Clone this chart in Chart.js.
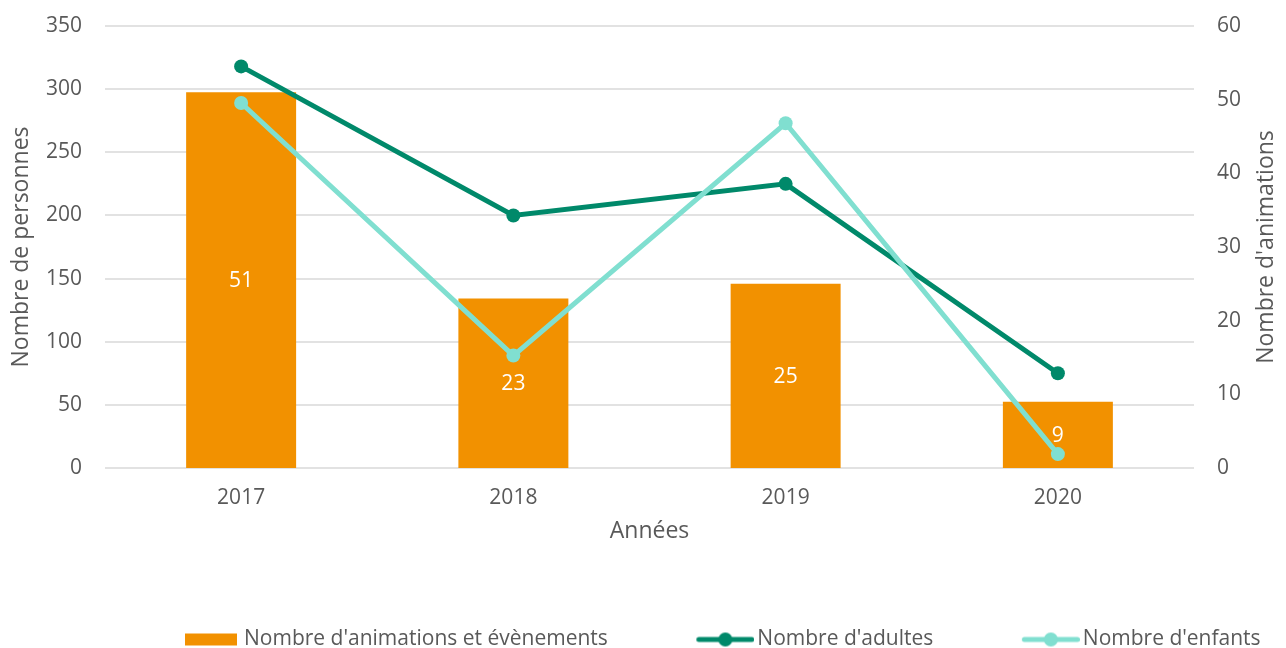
<!DOCTYPE html>
<html>
<head>
<meta charset="utf-8">
<script src="https://cdn.jsdelivr.net/npm/chart.js@4"></script>
<style>
  html, body { margin: 0; padding: 0; background: #ffffff; }
  #wrap { width: 1286px; height: 648px; }
</style>
</head>
<body>
<div id="wrap"><canvas id="c" width="1286" height="648"></canvas></div>
<script>
// ---- Data ----
const years = ['2017', '2018', '2019', '2020'];
const animations = [51, 23, 25, 9];
const adultes = [318, 200, 225, 75];
const enfants = [289, 89, 273, 11];
const leftTicks = { min: 0, max: 350, step: 50 };
const rightTicks = { min: 0, max: 60, step: 10 };
const labelsText = {
  bars: "Nombre d'animations et évènements",
  adults: "Nombre d'adultes",
  kids: "Nombre d'enfants",
  xTitle: 'Années',
  yLeft: 'Nombre de personnes',
  yRight: "Nombre d'animations"
};

// ---- Styles ----
const ORANGE = '#F29100';
const DARK = '#00896A';
const TEAL = '#80DFD0';
const TEXT = '#595959';
const GRID = '#e2e2e2';
const FONT = "'Open Sans', sans-serif";
const LEG_FONT = 21;
const BOXW = 58;
const LEG_PAD = 81;

function legendImg(kind, color, gap) {
  const half = LEG_FONT / 2;
  const W = Math.round(BOXW + 2 * half - 2 * gap);
  const H = 16;
  const cv = document.createElement('canvas');
  cv.width = W; cv.height = H;
  const g = cv.getContext('2d');
  if (kind === 'bar') {
    const cw = 52;
    g.fillStyle = color;
    g.fillRect(W - cw, 2, cw, 12);
  } else {
    const cw = 58;
    g.strokeStyle = color;
    g.lineWidth = 5;
    g.lineCap = 'round';
    g.beginPath();
    g.moveTo(W - cw + 2.5, H / 2);
    g.lineTo(W - 2.5, H / 2);
    g.stroke();
    g.fillStyle = color;
    g.beginPath();
    g.arc(W - cw / 2, H / 2, 7, 0, Math.PI * 2);
    g.fill();
  }
  return cv;
}

const barLabelPlugin = {
  id: 'barLabels',
  afterDatasetsDraw(chart) {
    const ctx = chart.ctx;
    const meta = chart.getDatasetMeta(0);
    ctx.save();
    ctx.font = '21px ' + FONT;
    ctx.fillStyle = '#ffffff';
    ctx.textAlign = 'center';
    ctx.textBaseline = 'middle';
    meta.data.forEach((el, i) => {
      const p = el.getProps(['x', 'y', 'base'], true);
      ctx.fillText(String(animations[i]), p.x, (p.y + p.base) / 2 + 1);
    });
    ctx.restore();
  }
};

const rightTitlePlugin = {
  id: 'rightTitle',
  afterDraw(chart) {
    const ctx = chart.ctx;
    const a = chart.chartArea;
    ctx.save();
    ctx.font = '23px ' + FONT;
    ctx.fillStyle = TEXT;
    ctx.textAlign = 'center';
    ctx.textBaseline = 'middle';
    ctx.translate(1266, (a.top + a.bottom) / 2);
    ctx.rotate(-Math.PI / 2);
    ctx.fillText(labelsText.yRight, 0, 0);
    ctx.restore();
  }
};

const legendShiftPlugin = {
  id: 'legendShift',
  afterLayout(chart) {
    const lg = chart.legend;
    if (lg) {
      lg.left = 175.5 - LEG_PAD;
      lg.right = 1500;
      lg.top = 548;
    }
  }
};

function draw() {
  const imgBar = legendImg('bar', ORANGE, 7);
  const imgAd = legendImg('line', DARK, 3);
  const imgKid = legendImg('line', TEAL, 3);

  new Chart(document.getElementById('c'), {
    data: {
      labels: years,
      datasets: [
        {
          type: 'bar',
          label: labelsText.bars,
          data: animations,
          yAxisID: 'y1',
          backgroundColor: ORANGE,
          borderWidth: 0,
          categoryPercentage: 0.404,
          barPercentage: 1,
          order: 2
        },
        {
          type: 'line',
          label: labelsText.adults,
          data: adultes,
          yAxisID: 'y',
          borderColor: DARK,
          backgroundColor: DARK,
          borderWidth: 5,
          pointRadius: 7,
          pointBackgroundColor: DARK,
          pointBorderColor: DARK,
          pointBorderWidth: 0,
          tension: 0,
          order: 1
        },
        {
          type: 'line',
          label: labelsText.kids,
          data: enfants,
          yAxisID: 'y',
          borderColor: TEAL,
          backgroundColor: TEAL,
          borderWidth: 5,
          pointRadius: 7,
          pointBackgroundColor: TEAL,
          pointBorderColor: TEAL,
          pointBorderWidth: 0,
          tension: 0,
          order: 0
        }
      ]
    },
    options: {
      responsive: false,
      devicePixelRatio: 1,
      animation: false,
      layout: { padding: { top: 26, left: 0, right: 0, bottom: 0 } },
      plugins: {
        tooltip: { enabled: false },
        title: { display: false },
        legend: {
          display: true,
          position: 'bottom',
          align: 'start',
          maxHeight: 100,
          labels: {
            usePointStyle: true,
            pointStyleWidth: BOXW,
            boxHeight: 12,
            padding: LEG_PAD,
            color: TEXT,
            font: { family: FONT, size: LEG_FONT },
            generateLabels() {
              return [
                { text: labelsText.bars, pointStyle: imgBar, fillStyle: ORANGE, strokeStyle: ORANGE, lineWidth: 0, hidden: false, datasetIndex: 0, fontColor: TEXT },
                { text: labelsText.adults, pointStyle: imgAd, fillStyle: DARK, strokeStyle: DARK, lineWidth: 0, hidden: false, datasetIndex: 1, fontColor: TEXT },
                { text: labelsText.kids, pointStyle: imgKid, fillStyle: TEAL, strokeStyle: TEAL, lineWidth: 0, hidden: false, datasetIndex: 2, fontColor: TEXT }
              ];
            }
          }
        }
      },
      scales: {
        x: {
          type: 'category',
          offset: true,
          grid: { display: false, drawTicks: false },
          border: { display: false },
          ticks: { color: TEXT, font: { family: FONT, size: 21 }, padding: 17, maxRotation: 0 },
          title: { display: true, text: labelsText.xTitle, color: TEXT, font: { family: FONT, size: 23 }, padding: { top: 0, bottom: 3 } },
          afterFit(s) { s.height = 80; }
        },
        y: {
          position: 'left',
          min: leftTicks.min,
          max: leftTicks.max,
          grid: { color: GRID, lineWidth: 2, drawTicks: false },
          border: { display: false },
          ticks: { stepSize: leftTicks.step, color: TEXT, font: { family: FONT, size: 21 }, padding: 23 },
          title: { display: true, text: labelsText.yLeft, color: TEXT, font: { family: FONT, size: 23 }, padding: { top: 8, bottom: 0 } },
          afterFit(s) { s.width = 105; s.paddingTop = 12; s.paddingBottom = 12; }
        },
        y1: {
          position: 'right',
          min: rightTicks.min,
          max: rightTicks.max,
          grid: { display: false, drawTicks: false },
          border: { display: false },
          ticks: { stepSize: rightTicks.step, color: TEXT, font: { family: FONT, size: 21 }, padding: 23 },
          title: { display: false },
          afterFit(s) { s.width = 92; s.paddingTop = 12; s.paddingBottom = 12; }
        }
      }
    },
    plugins: [barLabelPlugin, rightTitlePlugin, legendShiftPlugin]
  });
}

let drawn = false;
function once() { if (!drawn) { drawn = true; draw(); } }
if (document.fonts && document.fonts.load) {
  Promise.all([
    document.fonts.load("21px 'Open Sans'"),
    document.fonts.load("23px 'Open Sans'", "Nombre d'animations évènements")
  ]).then(once, once);
  setTimeout(once, 1500);
} else {
  once();
}
</script>
</body>
</html>
